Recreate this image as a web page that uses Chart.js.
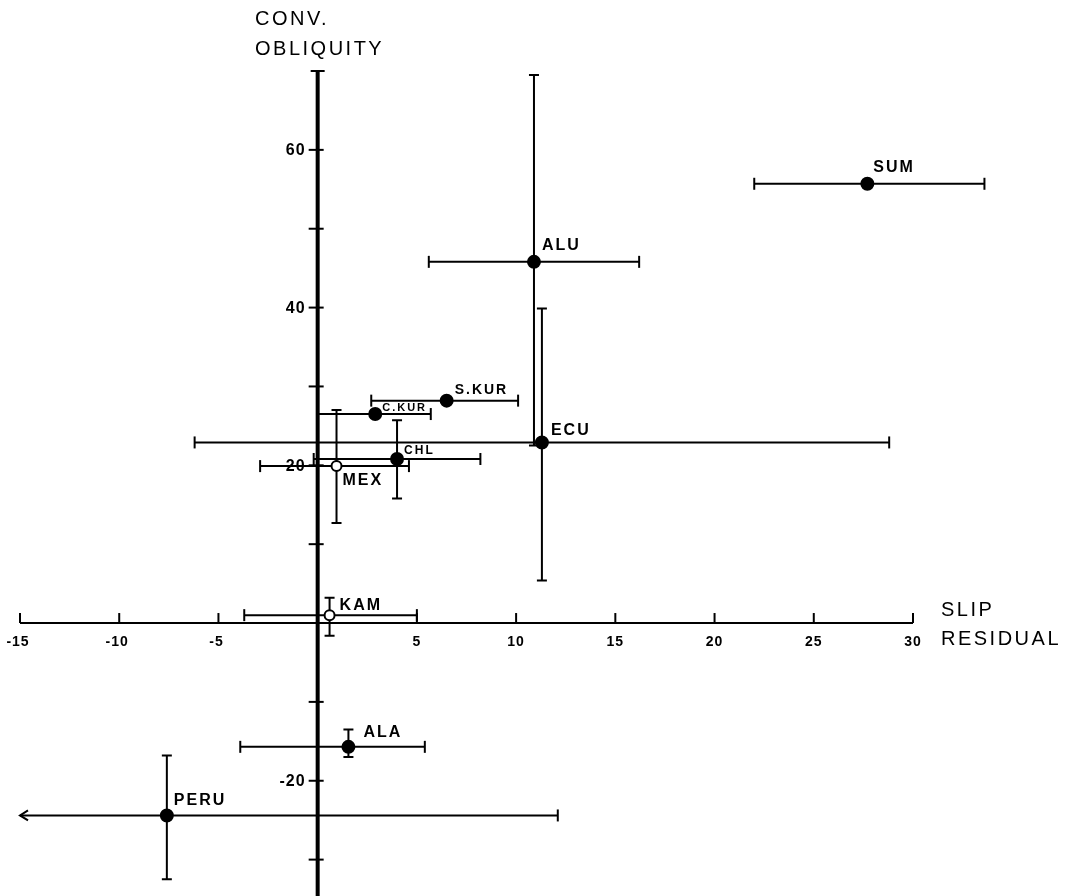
<!DOCTYPE html>
<html>
<head>
<meta charset="utf-8">
<script src="https://cdn.jsdelivr.net/npm/chart.js@4.4.1/dist/chart.umd.min.js"></script>
<style>
  html, body { margin: 0; padding: 0; background: #fff; }
  #wrap { width: 1069px; height: 896px; position: relative; }
</style>
</head>
<body>
<div id="wrap"><canvas id="plot" width="1069" height="896"></canvas></div>
<script>
// data
const names  = ['SUM', 'ALU', 'ECU', 'S.KUR', 'C.KUR', 'CHL', 'MEX', 'KAM', 'ALA', 'PERU'];
const slip   = [27.7, 10.9, 11.3, 6.5, 2.9, 4.0, 0.95, 0.6, 1.55, -7.6];
const obliq  = [55.7, 45.8, 22.9, 28.2, 26.5, 20.8, 19.9, 1.0, -15.7, -24.4];
const slipLo = [22.0, 5.6, -6.2, 2.7, 0.0, -0.2, -2.9, -3.7, -3.9, -15];
const slipHi = [33.6, 16.2, 28.8, 10.1, 5.7, 8.2, 4.6, 5.0, 5.4, 12.1];
const obqLo  = [null, 22.5, 5.4, null, null, 15.8, 12.7, -1.6, -17.0, -32.5];
const obqHi  = [null, 69.5, 39.9, null, null, 25.7, 27.0, 3.2, -13.5, -16.8];
const openMarker = [false, false, false, false, false, false, true, true, false, false];

const xTicks = [-15, -10, -5, 0, 5, 10, 15, 20, 25, 30];
const xTickLabels = [-15, -10, -5, 5, 10, 15, 20, 25, 30];
const yTickMarks = [60, 50, 40, 30, 20, 10, -10, -20, -30];
const yTickLabels = [60, 40, 20, -20];

// label placement (pixels from the point) and size
const labelDx = [6, 8, 9, 8, 7, 7, 6, 10, 15, 7];
const labelDy = [-16, -16, -12, -11, -6, -8, 14, -10, -14, -15];
const labelSize = [16, 16, 16, 14, 11, 12, 16, 16, 16, 16];

const FONT = '"Liberation Sans", Arial, sans-serif';

const figurePlugin = {
  id: 'figure',
  beforeDatasetsDraw(chart) {
    const ctx = chart.ctx;
    const xs = chart.scales.x, ys = chart.scales.y;
    const X = v => xs.getPixelForValue(v);
    const Y = v => ys.getPixelForValue(v);
    ctx.save();
    ctx.strokeStyle = '#000';
    ctx.fillStyle = '#000';

    // horizontal axis at obliquity 0
    ctx.lineWidth = 2;
    ctx.beginPath();
    ctx.moveTo(X(-15), Y(0));
    ctx.lineTo(X(30), Y(0));
    ctx.stroke();
    xTicks.forEach(t => {
      if (t === 0) return;
      ctx.beginPath();
      ctx.moveTo(X(t), Y(0));
      ctx.lineTo(X(t), Y(0) - 10);
      ctx.stroke();
    });
    ctx.font = 'bold 14px ' + FONT;
    ctx.letterSpacing = '1px';
    ctx.textAlign = 'center';
    ctx.textBaseline = 'middle';
    xTickLabels.forEach(t => {
      ctx.fillText(String(t), X(t) + (t < 0 ? -2 : 0), Y(0) + 19);
    });

    // vertical axis at slip 0
    ctx.lineWidth = 4;
    ctx.beginPath();
    ctx.moveTo(X(0), Y(70));
    ctx.lineTo(X(0), 900);
    ctx.stroke();
    ctx.lineWidth = 2;
    ctx.beginPath();
    ctx.moveTo(X(0) - 7, Y(70));
    ctx.lineTo(X(0) + 7, Y(70));
    ctx.stroke();
    yTickMarks.forEach(t => {
      ctx.beginPath();
      ctx.moveTo(X(0) - 9, Y(t));
      ctx.lineTo(X(0) + 6, Y(t));
      ctx.stroke();
    });
    ctx.font = 'bold 16px ' + FONT;
    ctx.letterSpacing = '1px';
    ctx.textAlign = 'right';
    yTickLabels.forEach(t => {
      ctx.fillText(String(t), X(0) - 12, Y(t) + 1);
    });

    // axis titles
    ctx.font = '20px ' + FONT;
    ctx.letterSpacing = '2.5px';
    ctx.textAlign = 'left';
    ctx.fillText('CONV.', 255, 19);
    ctx.fillText('OBLIQUITY', 255, 49);
    ctx.fillText('SLIP', 941, 610);
    ctx.fillText('RESIDUAL', 941, 639);
    ctx.letterSpacing = '0px';

    // error bars
    ctx.lineWidth = 2;
    names.forEach((n, i) => {
      const px = X(slip[i]), py = Y(obliq[i]);
      ctx.beginPath();
      ctx.moveTo(X(slipLo[i]), py);
      ctx.lineTo(X(slipHi[i]), py);
      ctx.stroke();
      if (slipLo[i] <= xs.min) {
        ctx.beginPath();
        ctx.moveTo(X(slipLo[i]) + 8, py - 5);
        ctx.lineTo(X(slipLo[i]), py);
        ctx.lineTo(X(slipLo[i]) + 8, py + 5);
        ctx.stroke();
      } else {
        ctx.beginPath();
        ctx.moveTo(X(slipLo[i]), py - 6);
        ctx.lineTo(X(slipLo[i]), py + 6);
        ctx.stroke();
      }
      ctx.beginPath();
      ctx.moveTo(X(slipHi[i]), py - 6);
      ctx.lineTo(X(slipHi[i]), py + 6);
      ctx.stroke();
      if (obqLo[i] !== null) {
        ctx.beginPath();
        ctx.moveTo(px, Y(obqLo[i]));
        ctx.lineTo(px, Y(obqHi[i]));
        ctx.moveTo(px - 5, Y(obqLo[i]));
        ctx.lineTo(px + 5, Y(obqLo[i]));
        ctx.moveTo(px - 5, Y(obqHi[i]));
        ctx.lineTo(px + 5, Y(obqHi[i]));
        ctx.stroke();
      }
    });
    ctx.restore();
  },
  afterDatasetsDraw(chart) {
    const ctx = chart.ctx;
    const xs = chart.scales.x, ys = chart.scales.y;
    ctx.save();
    ctx.fillStyle = '#000';
    ctx.textAlign = 'left';
    ctx.textBaseline = 'middle';
    ctx.letterSpacing = '2px';
    names.forEach((n, i) => {
      ctx.font = 'bold ' + labelSize[i] + 'px ' + FONT;
      ctx.fillText(n, xs.getPixelForValue(slip[i]) + labelDx[i], ys.getPixelForValue(obliq[i]) + labelDy[i]);
    });
    ctx.restore();
  }
};

new Chart(document.getElementById('plot').getContext('2d'), {
  type: 'scatter',
  data: {
    datasets: [{
      data: names.map((n, i) => ({ x: slip[i], y: obliq[i] })),
      pointRadius: names.map((n, i) => openMarker[i] ? 5 : 6),
      pointBackgroundColor: openMarker.map(o => o ? '#fff' : '#000'),
      pointBorderColor: '#000',
      pointBorderWidth: 2
    }]
  },
  options: {
    responsive: false,
    animation: false,
    layout: { padding: { left: 20, right: 156, top: 30, bottom: 0 } },
    plugins: { legend: { display: false }, tooltip: { enabled: false } },
    scales: {
      x: { type: 'linear', min: -15, max: 30, display: false },
      y: { type: 'linear', min: -33.6, max: 75.2, display: false }
    }
  },
  plugins: [figurePlugin]
});
</script>
</body>
</html>
